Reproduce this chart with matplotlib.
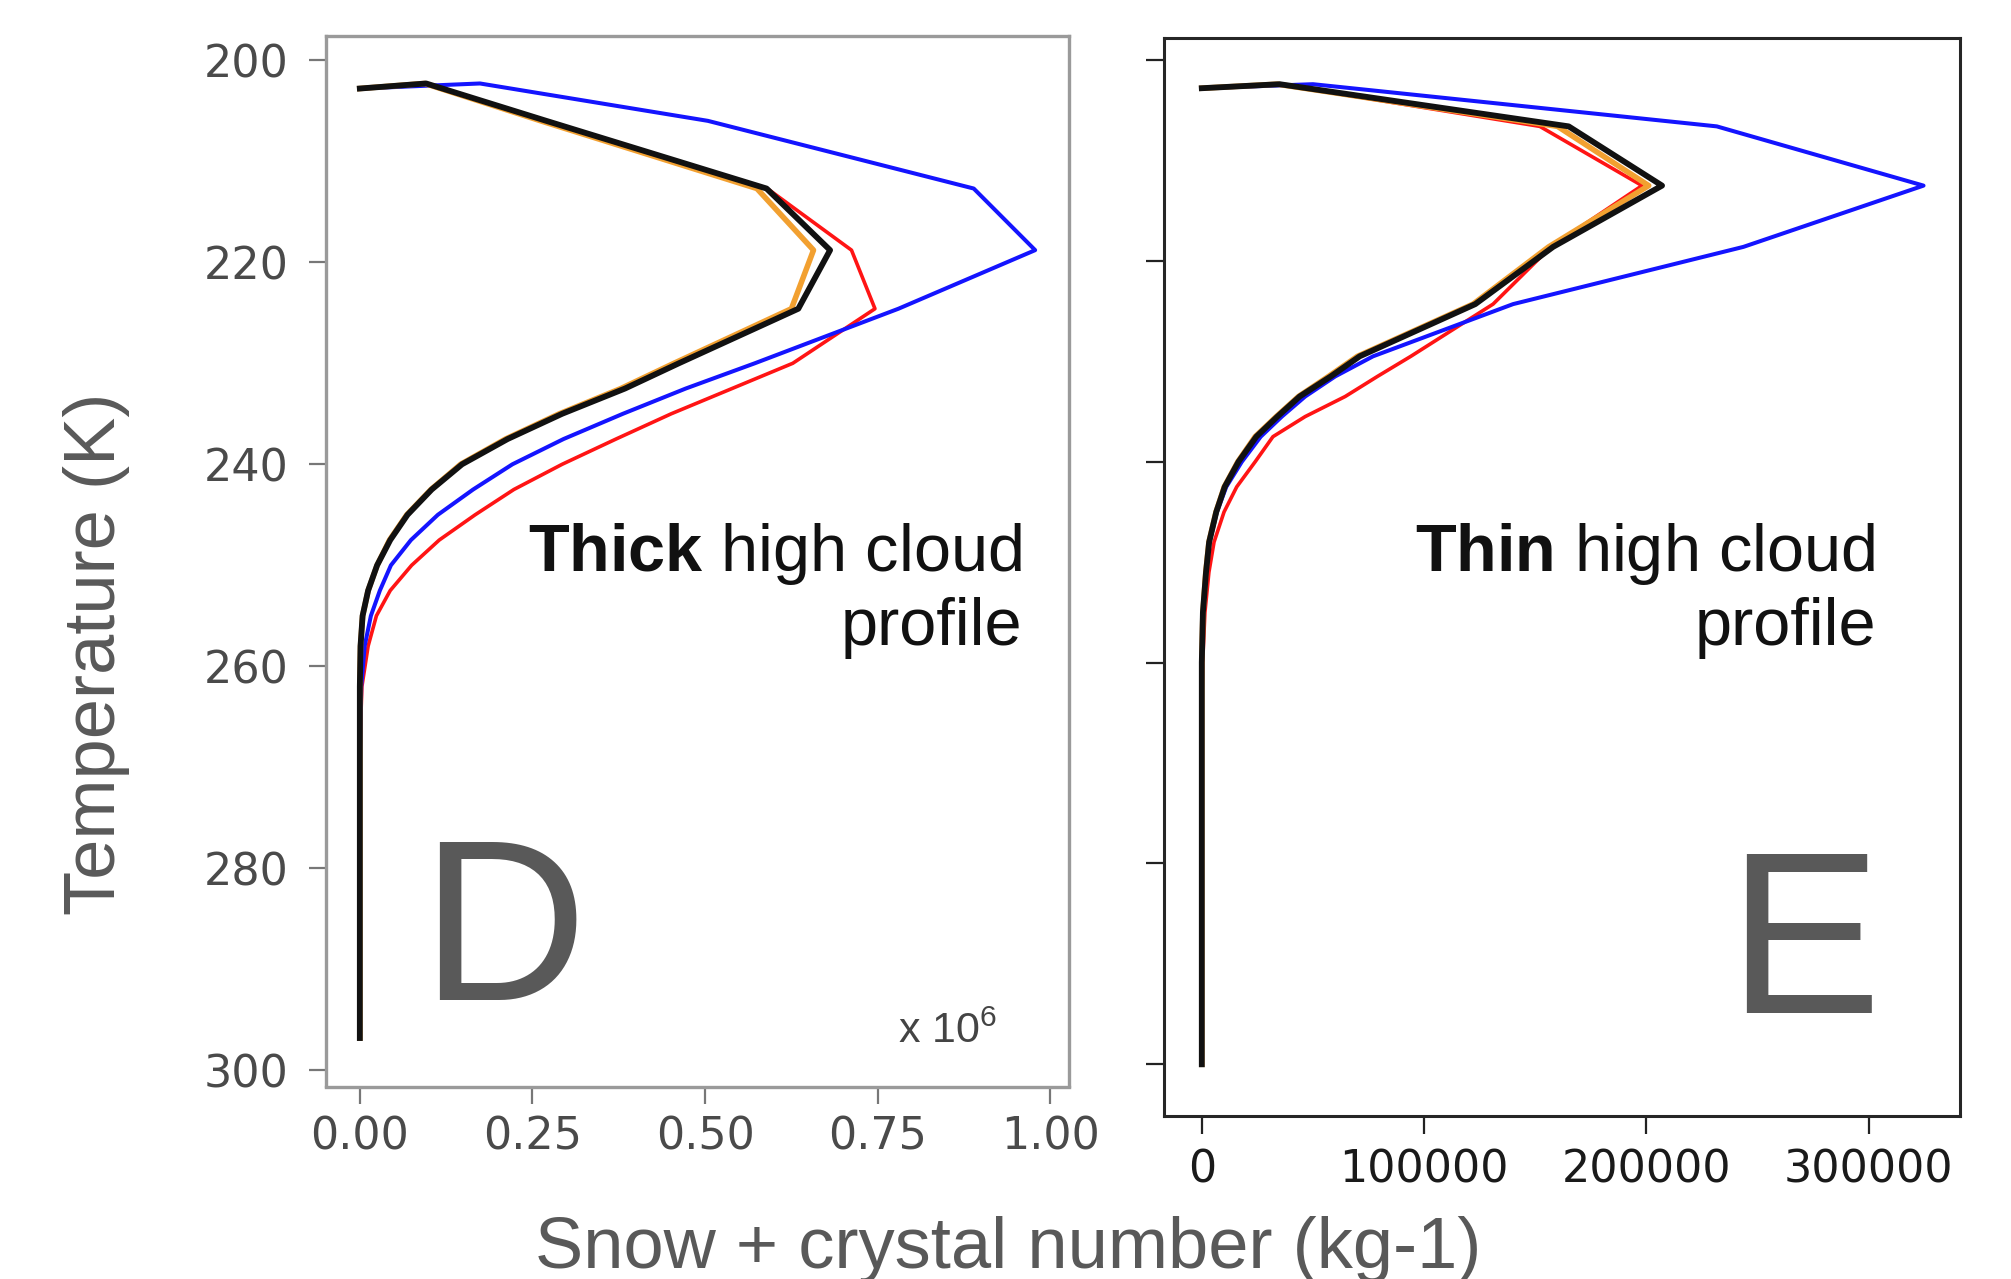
import matplotlib.pyplot as plt
import numpy as np

plt.rcParams['mathtext.fontset'] = 'custom'
plt.rcParams['mathtext.rm'] = 'Liberation Sans'
plt.rcParams['mathtext.bf'] = 'Liberation Sans:bold'

# panel D: thick high cloud (values in 1e6 kg-1)
temp_thick = [202.8, 202.3, 206.0, 212.7, 218.8, 224.6, 230.0, 232.5, 235.0, 237.5, 240.0, 242.5, 245.0,
              247.5, 250.0, 252.5, 255.0, 258.0, 262.0, 266.0, 270.0, 275.0, 280.0, 285.0, 290.0, 296.8]
thick_black = [0.0, 0.096, 0.27, 0.589, 0.681, 0.635, 0.462, 0.384, 0.293, 0.214, 0.148, 0.104, 0.069,
               0.044, 0.025, 0.012, 0.004, 0.001, 0, 0, 0, 0, 0, 0, 0, 0]
thick_orange = [0.0, 0.094, 0.262, 0.575, 0.657, 0.625, 0.455, 0.378, 0.289, 0.211, 0.146, 0.103, 0.068,
                0.043, 0.025, 0.012, 0.004, 0.001, 0, 0, 0, 0, 0, 0, 0, 0]
thick_red = [0.0, 0.096, 0.27, 0.59, 0.712, 0.746, 0.627, 0.539, 0.451, 0.371, 0.293, 0.223, 0.167,
             0.115, 0.075, 0.044, 0.024, 0.012, 0.003, 0.001, 0, 0, 0, 0, 0, 0]
thick_blue = [0.0, 0.174, 0.504, 0.889, 0.978, 0.78, 0.572, 0.472, 0.381, 0.295, 0.221, 0.164, 0.113,
              0.074, 0.045, 0.029, 0.016, 0.007, 0.002, 0.001, 0, 0, 0, 0, 0, 0]

# panel E: thin high cloud (kg-1)
temp_thin = [202.8, 202.4, 206.6, 212.5, 218.6, 224.3, 229.5, 231.5, 233.5, 235.5, 237.5, 240.0, 242.5,
             245.0, 248.0, 251.0, 255.0, 260.0, 265.0, 270.0, 275.0, 280.0, 285.0, 290.0, 295.0, 300.0]
thin_black = [0, 35000, 165000, 207000, 158000, 123000, 71000, 58000, 44000, 34000, 24500, 16500, 10300,
              6500, 3300, 1900, 500, 0, 0, 0, 0, 0, 0, 0, 0, 0]
thin_orange = [0, 34000, 160000, 201000, 156000, 122000, 70000, 57000, 43500, 33500, 24000, 16200, 10100,
               6400, 3200, 1800, 500, 0, 0, 0, 0, 0, 0, 0, 0, 0]
thin_red = [0, 35000, 152000, 198000, 157000, 131000, 94000, 79000, 64500, 46500, 32000, 24000, 15700,
            10000, 5500, 3200, 1400, 400, 0, 0, 0, 0, 0, 0, 0, 0]
thin_blue = [0, 50000, 231600, 324600, 243600, 140000, 77000, 60000, 46500, 36000, 26500, 18000, 11000,
             6800, 3500, 2000, 600, 0, 0, 0, 0, 0, 0, 0, 0, 0]

temp_ticks = [200, 220, 240, 260, 280, 300]
thick_ticks = [0.0, 0.25, 0.5, 0.75, 1.0]
thick_ticklabels = ['0.00', '0.25', '0.50', '0.75', '1.00']
thin_ticks = [0, 100000, 200000, 300000]
thin_ticklabels = ['0', '100000', '200000', '300000']

W, H = 2011, 1279
fig = plt.figure(figsize=(W / 100, H / 100), dpi=100)
ax1 = fig.add_axes([326 / W, 1 - 1086.5 / H, (1069 - 326) / W, (1086.5 - 36) / H])
ax2 = fig.add_axes([1164 / W, 1 - 1115.5 / H, (1960 - 1164) / W, (1115.5 - 38) / H])

for ax, t, b, o, r, bl in [(ax1, temp_thick, thick_black, thick_orange, thick_red, thick_blue),
                           (ax2, temp_thin, thin_black, thin_orange, thin_red, thin_blue)]:
    ax.plot(r, t, color='#ff1414', lw=2.6)
    ax.plot(bl, t, color='#1414ff', lw=2.9)
    ax.plot(o, t, color='#f2a030', lw=4.0)
    ax.plot(b, t, color='#111111', lw=4.2)

ax1.set_xlim(-0.049, 1.027)
ax1.set_ylim(301.6, 197.6)
ax1.set_xticks(thick_ticks)
ax1.set_xticklabels(thick_ticklabels)
ax1.set_yticks(temp_ticks)
ax1.set_yticklabels([str(v) for v in temp_ticks])
for s in ax1.spines.values():
    s.set_color('#9a9a9a')
    s.set_linewidth(2.4)
ax1.tick_params(length=12, width=1.6, color='#777777', labelsize=32, labelcolor='#4a4a4a')
ax1.tick_params(axis='x', pad=9)
ax1.tick_params(axis='y', pad=15)

ax2.set_xlim(-17000, 341000)
ax2.set_ylim(305.1, 197.8)
ax2.set_xticks(thin_ticks)
ax2.set_xticklabels(thin_ticklabels)
ax2.set_yticks(temp_ticks)
ax2.tick_params(axis='y', labelleft=False)
for s in ax2.spines.values():
    s.set_color('#262626')
    s.set_linewidth(2.2)
ax2.tick_params(length=13, width=1.6, color='#222222', labelsize=32, labelcolor='#1a1a1a', pad=11)

grey = '#595959'
fig.text(96 / W, 1 - 654 / H, 'Temperature (K)', rotation=90, ha='center', va='center',
         fontsize=52, color=grey, family='Liberation Sans')
fig.text(1008 / W, 1 - 1268 / H, 'Snow + crystal number (kg-1)', ha='center', va='baseline',
         fontsize=52, color=grey, family='Liberation Sans')
fig.text(503 / W, 1 - 1000 / H, 'D', ha='center', va='baseline', fontsize=166, color=grey,
         family='Liberation Sans')
fig.text(1804 / W, 1 - 1013 / H, 'E', ha='center', va='baseline', fontsize=166, color=grey,
         family='Liberation Sans')
fig.text(1022 / W, 1 - 645 / H, '$\\mathbf{Thick}$ high cloud\nprofile', ha='right', va='baseline',
         multialignment='right', fontsize=48, color='#111111', family='Liberation Sans',
         linespacing=1.2)
fig.text(1876 / W, 1 - 645 / H, '$\\mathbf{Thin}$ high cloud\nprofile', ha='right', va='baseline',
         multialignment='right', fontsize=48, color='#111111', family='Liberation Sans',
         linespacing=1.2)
fig.text(898 / W, 1 - 1043 / H, 'x 10$^6$', ha='left', va='baseline', fontsize=31, color='#444444',
         family='Liberation Sans')

fig.savefig('out.png', dpi=100, facecolor='white')
